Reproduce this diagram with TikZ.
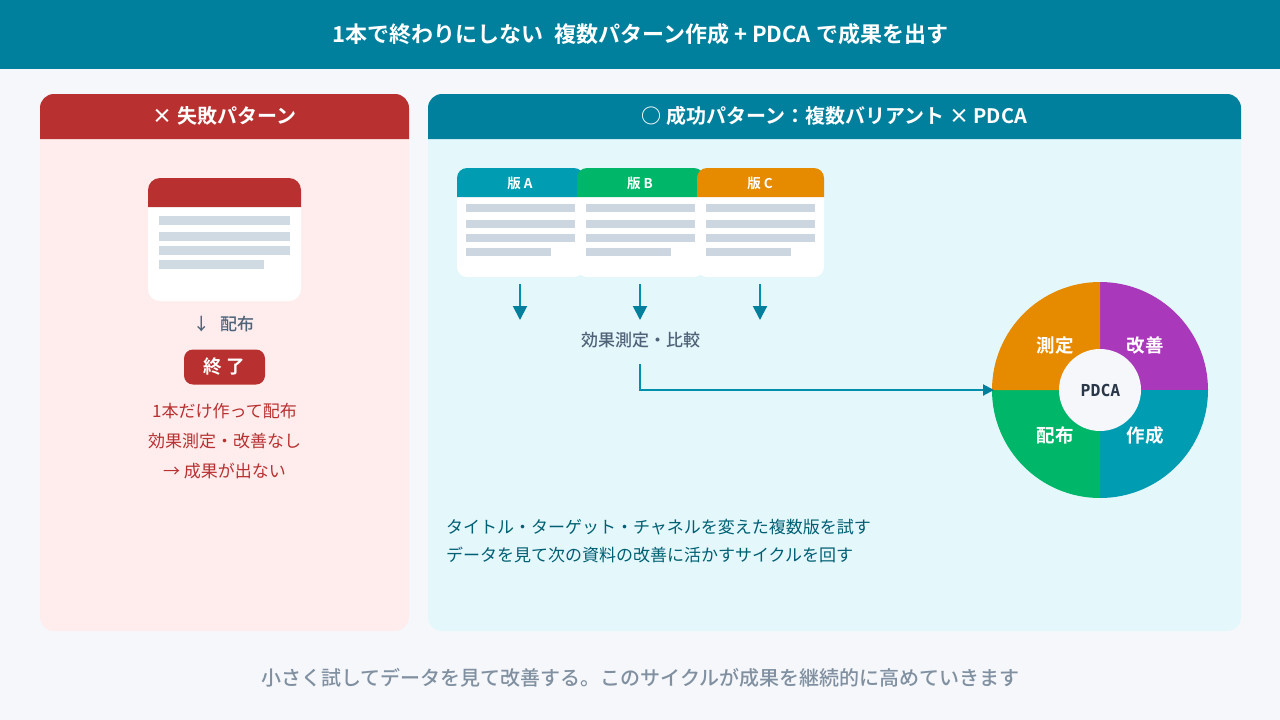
\documentclass[tikz,border=0pt]{standalone}
\usepackage{fontspec}
\setmainfont{Noto Sans CJK JP}[BoldFont={Noto Sans CJK JP Bold}]
\newfontfamily\medfont{Noto Sans CJK JP Medium}
\newfontfamily\pdcafont{DejaVu Sans Mono}[BoldFont={DejaVu Sans Mono Bold}]
\usetikzlibrary{arrows.meta}
\definecolor{bgc}{HTML}{F5F7FB}
\definecolor{tealc}{HTML}{00809D}
\definecolor{shaftc}{HTML}{0090AB}
\definecolor{redc}{HTML}{B83030}
\definecolor{pinkc}{HTML}{FFEDED}
\definecolor{paleb}{HTML}{E4F7FB}
\definecolor{barc}{HTML}{CBD6E0}
\definecolor{barl}{HTML}{D0DAE3}
\definecolor{cyanc}{HTML}{009CB2}
\definecolor{greenc}{HTML}{00B669}
\definecolor{orangec}{HTML}{E68A00}
\definecolor{purplec}{HTML}{AA38BB}
\definecolor{slatec}{HTML}{4F6378}
\definecolor{darkt}{HTML}{005F73}
\definecolor{capc}{HTML}{8090A0}
\definecolor{hubt}{HTML}{2A3748}
\newcommand{\fs}[1]{\fontsize{#1}{#1}\selectfont}
\newcommand{\toppath}[5]{(#1,#4) -- (#1,#2+#5) .. controls (#1,#2+0.448*#5) and (#1+0.448*#5,#2) .. (#1+#5,#2) -- (#3-#5,#2) .. controls (#3-0.448*#5,#2) and (#3,#2+0.448*#5) .. (#3,#2+#5) -- (#3,#4) -- cycle}
\newcommand{\botpath}[5]{(#1,#2) -- (#3,#2) -- (#3,#4-#5) .. controls (#3,#4-0.448*#5) and (#3-0.448*#5,#4) .. (#3-#5,#4) -- (#1+#5,#4) .. controls (#1+0.448*#5,#4) and (#1,#4-0.448*#5) .. (#1,#4-#5) -- cycle}
\newcommand{\card}[3]{%
  \fill[white] \botpath{#1}{197}{#1+127}{277}{10};
  \fill[#2] \toppath{#1}{168}{#1+127}{197}{10};
  \node[cardtitle] (title#3) at (#1+63,183.5) {版 #3};
  \fill[barc] (#1+9,204) rectangle (#1+118,212);
  \fill[barc] (#1+9,220) rectangle (#1+118,228);
  \fill[barc] (#1+9,234) rectangle (#1+118,242);
  \fill[barc] (#1+9,248) rectangle (#1+94,256);
}
\tikzset{
  lbl/.style={inner sep=0pt,outer sep=0pt,align=center},
  headtext/.style={lbl,text=white,font=\bfseries\fs{20}},
  cardtitle/.style={lbl,text=white,font=\bfseries\fs{13.5}},
  wedgetext/.style={lbl,text=white,font=\bfseries\fs{18.5}},
  redtext/.style={lbl,text=redc,font=\fs{17}},
  bodytext/.style={lbl,anchor=west,text=darkt,font=\fs{17}},
  conn/.style={draw=shaftc,line width=2pt,-{Triangle[length=14pt,width=14pt,color=tealc,fill=tealc]}},
  elbow/.style={draw=shaftc,line width=2pt,-{Triangle[length=11pt,width=11pt,color=tealc,fill=tealc]}},
}
\begin{document}
\begin{tikzpicture}[x=1pt,y=-1pt]
\useasboundingbox (0,0) rectangle (1280,720);
\fill[bgc] (0,0) rectangle (1280,720);
\fill[tealc] (0,0) rectangle (1280,69);
\node[lbl,text=white,font=\bfseries\fs{22}] (title) at (640.5,34) {1本で終わりにしない\hspace{.47em}複数パターン作成 + PDCA で成果を出す};

% left panel
\fill[pinkc,rounded corners=14pt] (40,94) rectangle (409,631);
\fill[redc] \toppath{40}{94}{409}{139}{14};
\node[headtext] (lefthead) at (224.5,116) {× 失敗パターン};
\fill[white] \botpath{148}{207}{301}{301}{12};
\fill[redc] \toppath{148}{178}{301}{207}{12};
\fill[barl] (159,216) rectangle (290,225);
\fill[barl] (159,232) rectangle (290,241);
\fill[barl] (159,246) rectangle (290,255);
\fill[barl] (159,260) rectangle (264,269);
\node[lbl,text=slatec,font=\medfont\fs{17}] (dist) at (223.5,324) {↓\hspace{.6em}配布};
\node[lbl,fill=redc,rounded corners=9pt,minimum width=81pt,minimum height=35pt,text=white,font=\bfseries\fs{18.5}] (end) at (224.5,367) {終 了};
\node[redtext] (l1) at (224.5,411) {1本だけ作って配布};
\node[redtext] (l2) at (224.5,441) {効果測定・改善なし};
\node[redtext] (l3) at (224.5,471) {→ 成果が出ない};

% right panel
\fill[paleb,rounded corners=14pt] (428,94) rectangle (1241,631);
\fill[tealc] \toppath{428}{94}{1241}{139}{14};
\node[headtext] (righthead) at (834.5,116) {○ 成功パターン：複数バリアント × PDCA};

\card{457}{cyanc}{A}
\card{577}{greenc}{B}
\card{697}{orangec}{C}
\coordinate (a1) at (520,284); \coordinate (a2) at (520,320);
\coordinate (b1) at (640,284); \coordinate (b2) at (640,320);
\coordinate (c1) at (760,284); \coordinate (c2) at (760,320);
\draw[conn] (a1) -- (a2);
\draw[conn] (b1) -- (b2);
\draw[conn] (c1) -- (c2);
\node[lbl,text=slatec,font=\medfont\fs{17}] (cmp) at (640.5,340.5) {効果測定・比較};

% PDCA wheel
\coordinate (hubc) at (1100,390);
\fill[purplec] (hubc) -- (1100,282) .. controls (1159.6,282) and (1208,330.4) .. (1208,390) -- cycle;
\fill[cyanc] (hubc) -- (1208,390) .. controls (1208,449.6) and (1159.6,498) .. (1100,498) -- cycle;
\fill[greenc] (hubc) -- (1100,498) .. controls (1040.4,498) and (992,449.6) .. (992,390) -- cycle;
\fill[orangec] (hubc) -- (992,390) .. controls (992,330.4) and (1040.4,282) .. (1100,282) -- cycle;
\node[circle,minimum size=216pt,inner sep=0pt,outer sep=0pt] (wheel) at (hubc) {};
\node[circle,fill=bgc,minimum size=82pt,inner sep=0pt,outer sep=0pt] (hub) at (hubc) {};
\node[lbl,text=hubt,font=\pdcafont\bfseries\fs{16.5}] (hubtext) at (1100.5,390.5) {PDCA};
\node[wedgetext] (w1) at (1055,345.5) {測定};
\node[wedgetext] (w2) at (1145,345.5) {改善};
\node[wedgetext] (w3) at (1055,435.5) {配布};
\node[wedgetext] (w4) at (1145,435.5) {作成};
\coordinate (s1) at (640,364);
\draw[elbow] (s1) |- ([xshift=2pt]wheel.west);

\node[bodytext] (t1) at (446,527) {タイトル・ターゲット・チャネルを変えた複数版を試す};
\node[bodytext] (t2) at (446,555) {データを見て次の資料の改善に活かすサイクルを回す};
\node[lbl,text=capc,font=\medfont\fs{20}] (cap) at (640.5,678) {小さく試してデータを見て改善する。このサイクルが成果を継続的に高めていきます};
\end{tikzpicture}
\end{document}
